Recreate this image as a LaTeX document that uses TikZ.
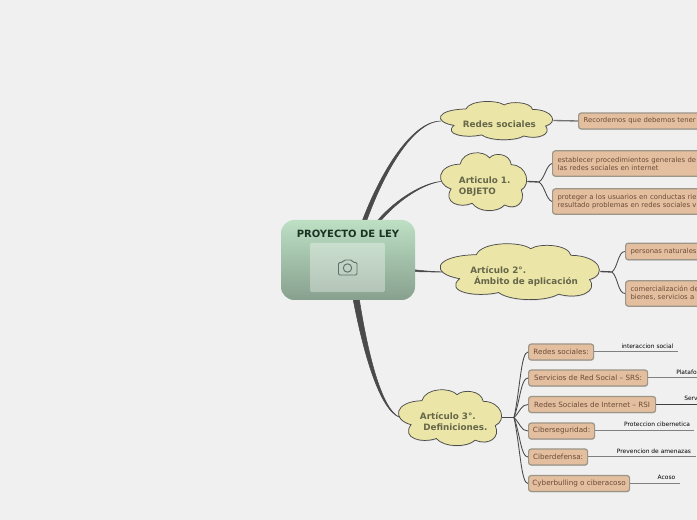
\documentclass[tikz,border=0pt]{standalone}
\usepackage{fontspec}
\setmainfont{DejaVu Sans}
\usetikzlibrary{arrows.meta, calc, positioning, shadows}
\definecolor{mapBack}{HTML}{F0F0F0}
\definecolor{mapLine}{HTML}{4A4A4A}
\definecolor{cloudFill}{HTML}{EBE6A8}
\definecolor{cloudText}{HTML}{66664A}
\definecolor{boxFill}{HTML}{E3BF9F}
\definecolor{boxEdge}{HTML}{9C9688}
\definecolor{boxText}{HTML}{6A4B36}
\definecolor{rootTop}{HTML}{BDE0C4}
\definecolor{rootBottom}{HTML}{87A08E}
\definecolor{rootText}{HTML}{1B3322}
\definecolor{cameraLine}{HTML}{5F706A}
\tikzset{
  % soft shadow used by all the map shapes
  softshadow/.style = {drop shadow={shadow xshift=0.2pt, shadow yshift=-0.6pt, opacity=0.3}},
  rootbox/.style    = {rectangle, rounded corners=10pt, minimum width=100.5pt, minimum height=60pt,
                       top color=rootTop, bottom color=rootBottom, inner sep=0pt},
  photobox/.style   = {rectangle, rounded corners=1.5pt, minimum width=56pt, minimum height=37pt,
                       fill=white, fill opacity=0.35, inner sep=0pt},
  roottitle/.style  = {font=\bfseries\fontsize{7.5}{9}\selectfont, text=rootText},
  cloudline/.style  = {draw=black!70, line width=0.55pt, fill=cloudFill, softshadow},
  cloudlbl/.style   = {anchor=west, inner sep=0pt, align=left, text=cloudText,
                       font=\bfseries\fontsize{6.6}{8.25}\selectfont},
  topicbox/.style   = {rectangle, rounded corners=2pt, draw=boxEdge, line width=0.9pt, fill=boxFill, softshadow,
                       anchor=west, inner sep=0pt, align=left, text=boxText,
                       font=\fontsize{5.4}{6}\selectfont},
  widebox/.style    = {topicbox, font=\fontsize{5.15}{6}\selectfont},
  leafline/.style   = {line width=0.75pt, black!50},
  leaflbl/.style    = {font=\fontsize{4.45}{5}\selectfont, text=black, inner sep=0pt},
  twig/.style       = {mapLine, line width=0.65pt},
  stem/.style       = {mapLine, line width=1pt},
}
% tapered branch: start, half width at start (x and y), two control points, end
\newcommand{\taperbranch}[6]{%
  \filldraw[mapLine, line width=0.4pt] ($(#1)+(-#2,-#3)$)
    .. controls ($(#4)+(-0.7*#2,-0.7*#3)$) and ($(#5)+(-0.3*#2,-0.3*#3)$) .. (#6)
    .. controls ($(#5)+(0.3*#2,0.3*#3)$) and ($(#4)+(0.7*#2,0.7*#3)$) .. ($(#1)+(#2,#3)$) -- cycle;}
% cloud: name, left, top, width, height (one outline, stretched to fit)
\newcommand{\mapcloud}[5]{%
  \node[inner sep=0pt, minimum width=#4*0.75pt, minimum height=#5*0.75pt] (#1) at (#2+#4/2,#3+#5/2) {};
  \begin{scope}[shift={(#2,#3)}, x=#4*0.75pt, y=-#5*0.75pt]
    \path[cloudline] (.222,.205)
      .. controls (.26,-.03) and (.50,-.03) .. (.564,.10)
      .. controls (.62,0) and (.80,.02) .. (.817,.216)
      .. controls (1.0,.22) and (1.05,.55) .. (.934,.642)
      .. controls (.99,.85) and (.87,1.0) .. (.739,.898)
      .. controls (.66,1.03) and (.44,1.03) .. (.362,.869)
      .. controls (.22,.96) and (.02,.86) .. (.117,.625)
      .. controls (-.07,.54) and (-.05,.22) .. (.222,.205) -- cycle;
  \end{scope}}
\begin{document}
\begin{tikzpicture}[x=0.75pt,y=-0.75pt]
  \useasboundingbox (0,0) rectangle (697,520);
  \fill[mapBack] (0,0) rectangle (697,520);
  \clip (0,0) rectangle (697,520);
  % --- branches out of the root, drawn first so root and clouds cover their ends
  \coordinate (rootA) at (364,222);
  \coordinate (rootB) at (378,222);
  \coordinate (rootD) at (356,298);
  \taperbranch{rootA}{2}{0.5}{385,165}{415,121}{441,121}
  \taperbranch{rootB}{1}{0.9}{398,198}{425,183}{441,181.5}
  \filldraw[mapLine, line width=0.4pt] (412,269.5) .. controls (425,271) .. (444,272) .. controls (425,272) .. (412,271.5) -- cycle;
  \taperbranch{rootD}{3}{-0.6}{365,350}{380,410}{400,417.5}
  % --- clouds ---------------------------------------------------------------
  \mapcloud{redes}{441}{101}{112}{39}
  \mapcloud{art1}{441}{152}{86}{59}
  \mapcloud{art2}{441}{243}{159}{57}
  \mapcloud{art3}{399}{389}{103}{57}
  \node[cloudlbl] (redesLbl) at (462.7,124.3) {Redes sociales};
  \node[cloudlbl] (art1Lbl) at (458.7,186.7) {Articulo 1.\\OBJETO};
  \node[cloudlbl] (art2Lbl) at (470,276.7) {Artículo 2°.\\\hspace*{2.8pt}Ámbito de aplicación};
  \node[cloudlbl] (art3Lbl) at (419.7,421.7) {Artículo 3°.\\\hspace*{2.5pt}Definiciones.};
  % --- root -----------------------------------------------------------------
  \node[rootbox] (root) at (348,260) {};
  \node[roottitle] (rootTitle) at (348,233.5) {PROYECTO DE LEY};
  \node[photobox] (photo) at (347.5,267.5) {};
  % camera glyph
  \draw[cameraLine, line width=0.7pt, rounded corners=1pt]
    (338.5,262.5) -- (342.5,262.5) -- (344,260) -- (352,260) -- (353,262.5) -- (357,262.5) -- (357,275) -- (338.5,275) -- cycle;
  \draw[cameraLine, line width=0.7pt] (347.5,268) circle (4.2);
  % --- Redes sociales ---------------------------------------------------------
  \node[widebox, minimum width=140pt, minimum height=12pt, text width=132.5pt] (redesA) at (578,121) {Recordemos que debemos tener};
  \draw[black!55, line width=1pt] (redes.east) -- (redesA.west);
  % --- Articulo 1 -------------------------------------------------------------
  \coordinate (junc1) at (539,182);
  \node[widebox, minimum width=150pt, minimum height=19pt, text width=142.5pt] (art1A) at (552,163.5)
    {establecer procedimientos generales de\\las redes sociales en internet};
  \node[widebox, minimum width=150pt, minimum height=19pt, text width=142.5pt] (art1B) at (552,201.5)
    {proteger a los usuarios en conductas rie\\resultado problemas en redes sociales v};
  \draw[stem] (art1.east) -- (junc1);
  \draw[twig] (junc1) .. controls +(6,-4) and +(-6,2) .. (art1A.west);
  \draw[twig] (junc1) .. controls +(6,4) and +(-6,-2) .. (art1B.west);
  % --- Articulo 2 -------------------------------------------------------------
  \coordinate (junc2) at (612,272);
  \node[widebox, minimum width=100pt, minimum height=12.5pt, text width=92.5pt] (art2A) at (625,251.5) {personas naturales};
  \node[widebox, minimum width=100pt, minimum height=19pt, text width=92.5pt] (art2B) at (625,293.5)
    {comercialización de\\bienes, servicios a};
  \draw[stem] (art2.east) -- (junc2);
  \draw[twig] (junc2) .. controls +(6,-5) and +(-7,0) .. (art2A.west);
  \draw[twig] (junc2) .. controls +(6,5) and +(-7,0) .. (art2B.west);
  % --- Articulo 3 -------------------------------------------------------------
  \coordinate (junc3) at (514,417.5);
  \foreach \name/\ypos/\wid/\txt in {
      defA/352/48.75/{Redes sociales:},
      defB/378/89.25/{Servicios de Red Social – SRS:},
      defC/404.5/95.25/{Redes Sociales de Internet – RSI},
      defD/431/49.5/{Ciberseguridad:},
      defE/457/44.25/{Ciberdefensa:},
      defF/483.5/75.75/{Cyberbulling o ciberacoso}} {
    \node[topicbox, minimum width=\wid pt, minimum height=12pt] (\name) at (528,\ypos) {\txt};
    \draw[twig] (junc3) .. controls ($(junc3)!0.45!(\name.west)$) and ($(\name.west)+(-7,0)$) .. (\name.west);
  }
  \draw[stem] (art3.east) -- (junc3);
  % leaves under the definitions
  \foreach \name/\xend in {defA/678, defB/700, defD/694, defE/696, defF/680} {
    \coordinate (leafEnd) at (\xend,0);
    \draw[leafline] (\name.east) -- (\name.east -| leafEnd);
  }
  \coordinate (leafEnd) at (700,0);
  \draw[leafline, black!75] (defC.east) -- (defC.east -| leafEnd);
  \node[leaflbl] (leafA) at (647.5,346) {interaccion social};
  \node[leaflbl, anchor=west] (leafB) at (676,372) {Platafo};
  \node[leaflbl, anchor=west] (leafC) at (684,398) {Serv};
  \node[leaflbl] (leafD) at (657,424) {Proteccion cibernetica};
  \node[leaflbl] (leafE) at (654,451) {Prevencion de amenazas};
  \node[leaflbl] (leafF) at (666.5,477) {Acoso};
\end{tikzpicture}
\end{document}
